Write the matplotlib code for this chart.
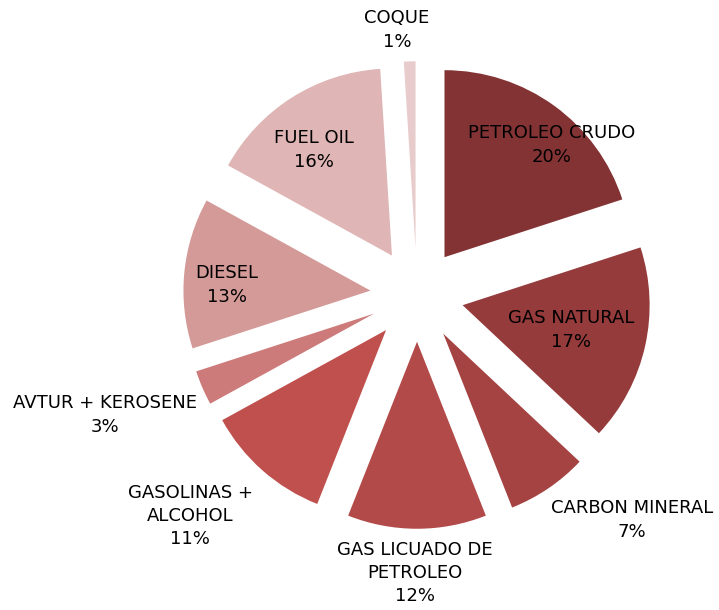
import matplotlib
matplotlib.use("Agg")
import matplotlib.pyplot as plt

categories = ["PETROLEO CRUDO", "GAS NATURAL", "CARBON MINERAL",
              "GAS LICUADO DE\nPETROLEO", "GASOLINAS +\nALCOHOL",
              "AVTUR + KEROSENE", "DIESEL", "FUEL OIL", "COQUE"]
values = [20, 17, 7, 12, 11, 3, 13, 16, 1]
colors = ["#833334", "#953b3b", "#a44341", "#b14a48", "#c0504d",
          "#cc7b7a", "#d49a98", "#dfb5b5", "#e8cccc"]

# label block centres in pixel coordinates of the 719x610 image (layout only)
label_px = [(552, 145), (571, 330), (632, 520), (415, 573), (190, 516),
            (105, 415), (227, 285), (314, 150), (397, 30)]

W, H = 719, 610
CX, CY, R = 417, 295, 187

fig = plt.figure(figsize=(W / 100, H / 100), dpi=100)
ax = fig.add_axes([0, 0, 1, 1])

ax.pie(values, colors=colors, startangle=90, counterclock=False,
       explode=[0.25] * len(values), radius=1.0,
       wedgeprops=dict(linewidth=0))

ax.set_aspect("auto")
ax.set_xlim((0 - CX) / R, (W - CX) / R)
ax.set_ylim((CY - H) / R, (CY - 0) / R)
ax.axis("off")

total = sum(values)
for cat, v, (px, py) in zip(categories, values, label_px):
    txt = f"{cat}\n{round(100 * v / total)}%"
    ax.text((px - CX) / R, (CY - py) / R, txt, ha="center", va="center",
            multialignment="center", fontsize=13, family="DejaVu Sans",
            linespacing=1.38, color="black")

fig.savefig("out.png", dpi=100)
